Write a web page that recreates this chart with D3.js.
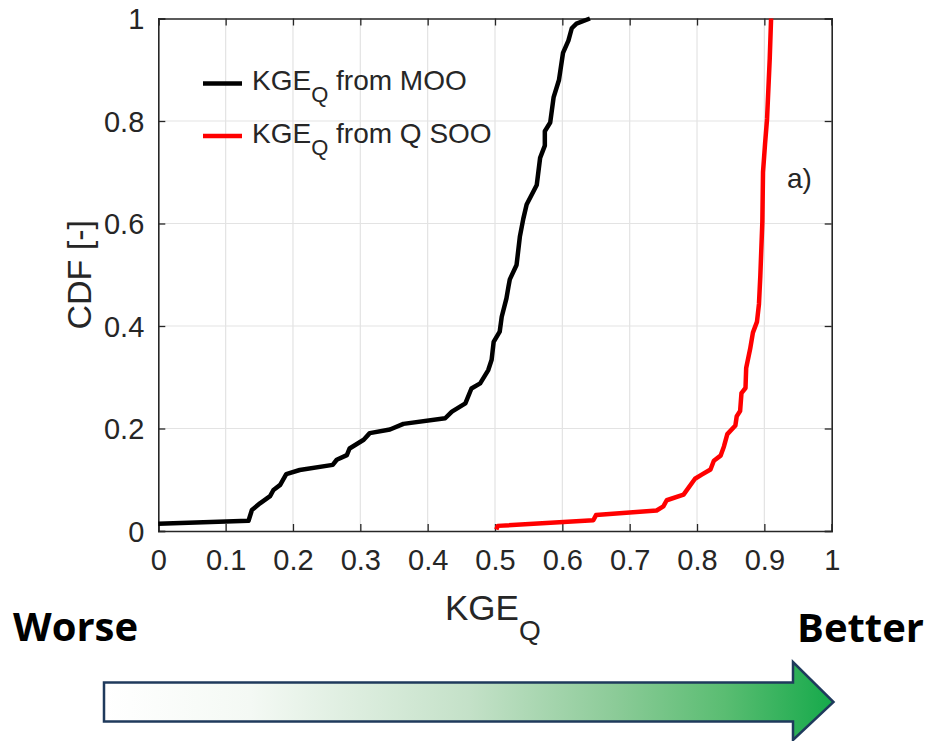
<!DOCTYPE html>
<html>
<head>
<meta charset="utf-8">
<title>CDF of KGE_Q</title>
<script src="https://d3js.org/d3.v7.min.js"></script>
<style>
  body { margin: 0; background: #fff; }
  text { font-family: "Liberation Sans", Arial, Helvetica, sans-serif; fill: #262626; }
  .bold { font-family: "Open Sans", "Liberation Sans", sans-serif; font-weight: 700; fill: #000; }
</style>
</head>
<body>
<div id="chart"></div>
<script>
// data
const xTicks = [0, 0.1, 0.2, 0.3, 0.4, 0.5, 0.6, 0.7, 0.8, 0.9, 1];
const yTicks = [0, 0.2, 0.4, 0.6, 0.8, 1];

const mooKge = [0, 0.134, 0.139, 0.151, 0.166, 0.171, 0.181, 0.190, 0.210, 0.259, 0.265, 0.280, 0.284, 0.305, 0.314, 0.344, 0.364, 0.426, 0.436, 0.456, 0.465, 0.478, 0.490, 0.495, 0.498, 0.507, 0.510, 0.517, 0.520, 0.522, 0.532, 0.537, 0.542, 0.547, 0.562, 0.567, 0.574, 0.574, 0.582, 0.587, 0.595, 0.601, 0.609, 0.614, 0.621, 0.641];
const mooCdf = [0.014, 0.020, 0.041, 0.054, 0.068, 0.080, 0.090, 0.111, 0.119, 0.129, 0.139, 0.148, 0.161, 0.178, 0.191, 0.198, 0.209, 0.220, 0.233, 0.249, 0.278, 0.288, 0.314, 0.334, 0.369, 0.389, 0.418, 0.454, 0.477, 0.491, 0.519, 0.575, 0.609, 0.637, 0.675, 0.728, 0.752, 0.780, 0.797, 0.846, 0.880, 0.933, 0.957, 0.981, 0.990, 1.0];

const sooKge = [0.502, 0.504, 0.646, 0.650, 0.740, 0.750, 0.755, 0.780, 0.797, 0.807, 0.820, 0.825, 0.835, 0.840, 0.845, 0.857, 0.859, 0.864, 0.866, 0.872, 0.873, 0.879, 0.883, 0.889, 0.892, 0.894, 0.897, 0.898, 0.901, 0.904, 0.908, 0.910];
const sooCdf = [0.003, 0.010, 0.021, 0.031, 0.040, 0.048, 0.060, 0.071, 0.102, 0.110, 0.120, 0.137, 0.147, 0.165, 0.189, 0.206, 0.224, 0.234, 0.269, 0.279, 0.318, 0.356, 0.387, 0.408, 0.443, 0.498, 0.603, 0.700, 0.755, 0.804, 0.922, 1.0];

const seriesNames = ["from MOO", "from Q SOO"];
const seriesColors = ["#000000", "#ff0000"];

const width = 925, height = 741;
const svg = d3.select("#chart").append("svg")
  .attr("width", width).attr("height", height);

const x = d3.scaleLinear().domain([0, 1]).range([158.3, 831.7]);
const y = d3.scaleLinear().domain([0, 1]).range([531, 18.5]);

const plot = svg.append("g");

// grid
plot.append("g").selectAll("line").data(xTicks.slice(1, -1)).join("line")
  .attr("x1", d => x(d)).attr("x2", d => x(d))
  .attr("y1", y(0)).attr("y2", y(1))
  .attr("stroke", "#e3e3e3").attr("stroke-width", 1.2);
plot.append("g").selectAll("line").data(yTicks.slice(1, -1)).join("line")
  .attr("y1", d => y(d)).attr("y2", d => y(d))
  .attr("x1", x(0)).attr("x2", x(1))
  .attr("stroke", "#e3e3e3").attr("stroke-width", 1.2);

// axes (inward ticks, boxed)
const fmt = d => d === 0 || d === 1 ? String(d) : d.toFixed(1);
const tickLen = 7;
const axB = plot.append("g").attr("transform", `translate(0,${y(0)})`)
  .call(d3.axisBottom(x).tickValues(xTicks).tickSize(-tickLen).tickPadding(18).tickFormat(fmt));
const axT = plot.append("g").attr("transform", `translate(0,${y(1)})`)
  .call(d3.axisTop(x).tickValues(xTicks).tickSize(-tickLen).tickFormat(""));
const axL = plot.append("g").attr("transform", `translate(${x(0)},0)`)
  .call(d3.axisLeft(y).tickValues(yTicks).tickSize(-tickLen).tickPadding(14).tickFormat(fmt));
const axR = plot.append("g").attr("transform", `translate(${x(1)},0)`)
  .call(d3.axisRight(y).tickValues(yTicks).tickSize(-tickLen).tickFormat(""));
[axB, axT, axL, axR].forEach(a => {
  a.select(".domain").attr("stroke", "#262626").attr("stroke-width", 1.6);
  a.selectAll(".tick line").attr("stroke", "#262626").attr("stroke-width", 1.3);
  a.selectAll("text").attr("font-size", 29).attr("fill", "#262626")
    .style("font-family", "'Liberation Sans', Arial, sans-serif");
});
axB.selectAll("text").attr("dy", "0.71em");
axL.selectAll("text").attr("dy", "0.36em");

// curves
const line = d3.line().x(d => x(d[0])).y(d => y(d[1]));
const series = [d3.zip(mooKge, mooCdf), d3.zip(sooKge, sooCdf)];
plot.append("g").selectAll("path").data(series).join("path")
  .attr("d", line)
  .attr("fill", "none")
  .attr("stroke", (d, i) => seriesColors[i])
  .attr("stroke-width", 4.5)
  .attr("stroke-linejoin", "round");

// legend
const legend = plot.append("g");
seriesNames.forEach((name, i) => {
  const ly = 83.5 + i * 52.5;
  legend.append("line")
    .attr("x1", 203).attr("x2", 242).attr("y1", ly).attr("y2", ly)
    .attr("stroke", seriesColors[i]).attr("stroke-width", 4.5);
  const t = legend.append("text").attr("x", 252).attr("y", ly + 6.5)
    .attr("font-size", 28);
  t.append("tspan").text("KGE");
  t.append("tspan").attr("font-size", 22).attr("dy", 12).text("Q");
  t.append("tspan").attr("dy", -12).text("\u00a0" + name);
});

// panel label
plot.append("text").attr("x", 787).attr("y", 188).attr("font-size", 28).text("a)");

// axis titles
const xt = svg.append("text").attr("x", 445).attr("y", 620).attr("font-size", 35);
xt.append("tspan").text("KGE");
xt.append("tspan").attr("font-size", 28).attr("dy", 20).text("Q");

svg.append("text")
  .attr("transform", `translate(91,${y(0.5)}) rotate(-90)`)
  .attr("text-anchor", "middle")
  .attr("font-size", 34)
  .text("CDF [-]");

// worse / better arrow
svg.append("text").attr("class", "bold").attr("x", 13).attr("y", 641)
  .attr("font-size", 40).text("Worse");
svg.append("text").attr("class", "bold").attr("x", 797).attr("y", 642)
  .attr("font-size", 40).text("Better");

const grad = svg.append("defs").append("linearGradient")
  .attr("id", "arrowGrad").attr("gradientUnits", "userSpaceOnUse")
  .attr("x1", 104).attr("x2", 834).attr("y1", 0).attr("y2", 0);
[[0, "#ffffff"], [0.2, "#f4f9f4"], [0.5, "#c4e1c8"], [0.7, "#8ccb98"], [0.85, "#5abd72"], [1, "#15a94a"]]
  .forEach(([o, c]) => grad.append("stop").attr("offset", o).attr("stop-color", c));

const arrowPts = [[104, 682.5], [793, 682.5], [793, 662], [833.5, 702], [793, 740], [793, 721.5], [104, 721.5]];
svg.append("path")
  .attr("d", d3.line()(arrowPts) + "Z")
  .attr("fill", "url(#arrowGrad)")
  .attr("stroke", "#1f3a5c")
  .attr("stroke-width", 2.5)
  .attr("stroke-linejoin", "miter");
</script>
</body>
</html>
